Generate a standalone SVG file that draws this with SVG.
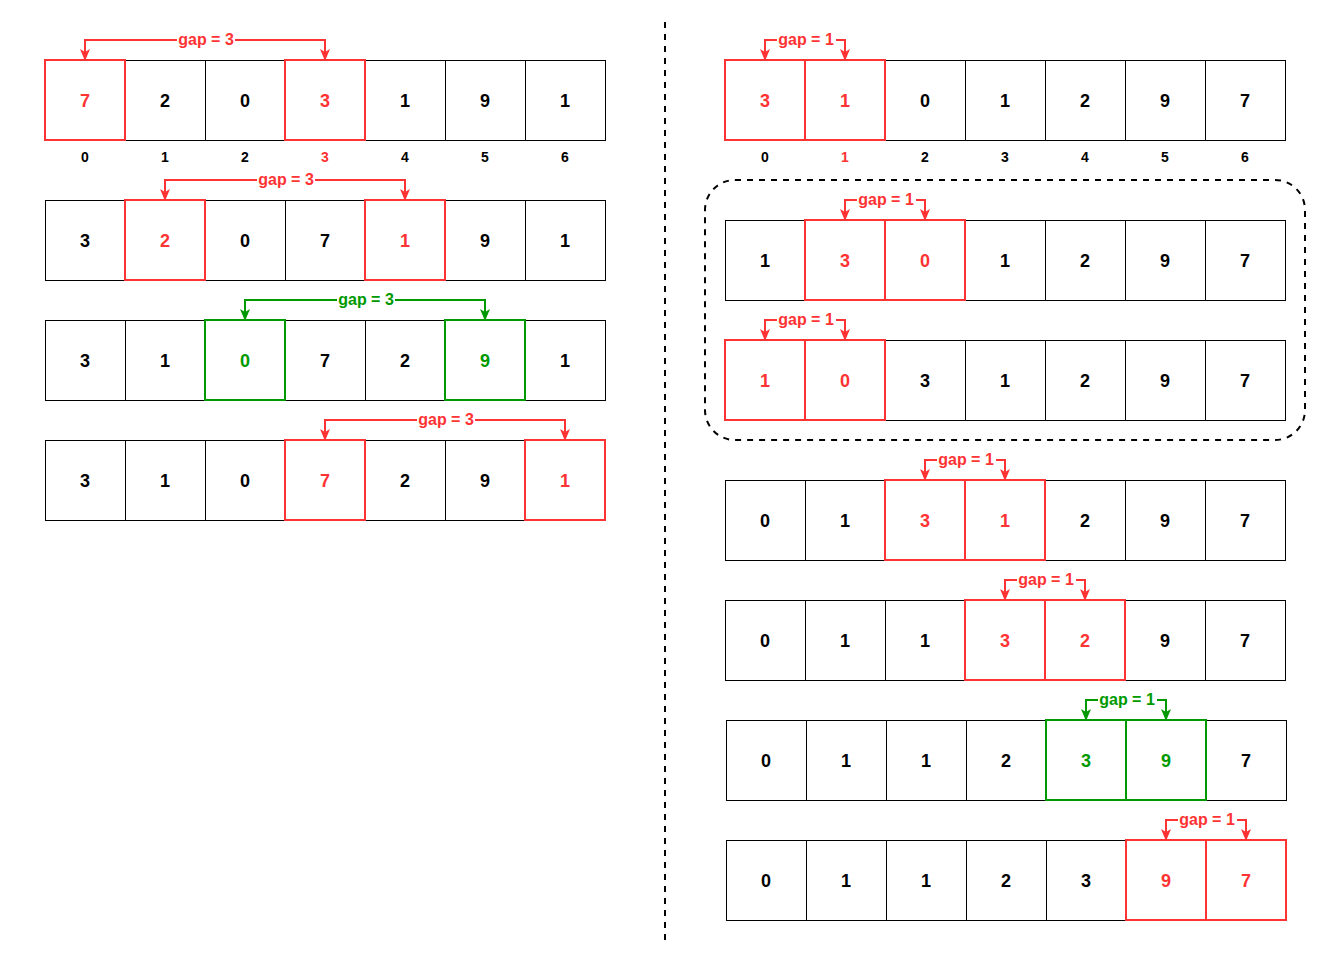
<svg xmlns="http://www.w3.org/2000/svg" width="1331" height="960" viewBox="0 0 1331 960">
<style>
.cell{fill:#fff;stroke:#000;stroke-width:1}
.hr{fill:none;stroke:#FF3333;stroke-width:2}
.hg{fill:none;stroke:#009900;stroke-width:2}
.num{font-family:"Liberation Sans",Arial,sans-serif;font-weight:bold;font-size:18px;text-anchor:middle;dominant-baseline:central;fill:#000}
.idx{font-family:"Liberation Sans",Arial,sans-serif;font-weight:bold;font-size:14px;text-anchor:middle;dominant-baseline:central;fill:#000}
.lbl{font-family:"Liberation Sans",Arial,sans-serif;font-weight:bold;font-size:16px;text-anchor:middle;dominant-baseline:central}
.r{fill:#FF3333}
.g{fill:#009900}
.cr{fill:none;stroke:#FF3333;stroke-width:2}
.cg{fill:none;stroke:#009900;stroke-width:2}
.cr.a{marker-end:url(#ar)}
.cg.a{marker-end:url(#ag)}
.bg{fill:#fff}
.dash{fill:none;stroke:#000;stroke-width:2;stroke-dasharray:6 6}
</style>
<defs>
<marker id="ar" viewBox="0 0 12 12" refX="11" refY="6" markerWidth="12" markerHeight="12" markerUnits="userSpaceOnUse" orient="auto"><path d="M0,1 L12,6 L0,11 L3,6 Z" fill="#FF3333"/></marker>
<marker id="ag" viewBox="0 0 12 12" refX="11" refY="6" markerWidth="12" markerHeight="12" markerUnits="userSpaceOnUse" orient="auto"><path d="M0,1 L12,6 L0,11 L3,6 Z" fill="#009900"/></marker>
</defs>
<rect width="1331" height="960" fill="#fff"/>
<line class="dash" x1="665" y1="22" x2="665" y2="940"/>
<rect id="group-box" class="dash" x="705" y="180" width="600" height="260" rx="30"/>

<g id="L1">
<g transform="translate(0.5,0.5)"><rect class="cell" x="45" y="60" width="80" height="80"/><rect class="cell" x="125" y="60" width="80" height="80"/><rect class="cell" x="205" y="60" width="80" height="80"/><rect class="cell" x="285" y="60" width="80" height="80"/><rect class="cell" x="365" y="60" width="80" height="80"/><rect class="cell" x="445" y="60" width="80" height="80"/><rect class="cell" x="525" y="60" width="80" height="80"/></g>
<rect class="hr" x="45" y="60" width="80" height="80"/><rect class="hr" x="285" y="60" width="80" height="80"/>
<text class="num r" x="85" y="101">7</text><text class="num" x="165" y="101">2</text><text class="num" x="245" y="101">0</text><text class="num r" x="325" y="101">3</text><text class="num" x="405" y="101">1</text><text class="num" x="485" y="101">9</text><text class="num" x="565" y="101">1</text>
</g>
<g id="L-index">
<text class="idx" x="85" y="157">0</text><text class="idx" x="165" y="157">1</text><text class="idx" x="245" y="157">2</text><text class="idx r" x="325" y="157">3</text><text class="idx" x="405" y="157">4</text><text class="idx" x="485" y="157">5</text><text class="idx" x="565" y="157">6</text>
</g>
<g id="L2">
<g transform="translate(0.5,0.5)"><rect class="cell" x="45" y="200" width="80" height="80"/><rect class="cell" x="125" y="200" width="80" height="80"/><rect class="cell" x="205" y="200" width="80" height="80"/><rect class="cell" x="285" y="200" width="80" height="80"/><rect class="cell" x="365" y="200" width="80" height="80"/><rect class="cell" x="445" y="200" width="80" height="80"/><rect class="cell" x="525" y="200" width="80" height="80"/></g>
<rect class="hr" x="125" y="200" width="80" height="80"/><rect class="hr" x="365" y="200" width="80" height="80"/>
<text class="num" x="85" y="241">3</text><text class="num r" x="165" y="241">2</text><text class="num" x="245" y="241">0</text><text class="num" x="325" y="241">7</text><text class="num r" x="405" y="241">1</text><text class="num" x="485" y="241">9</text><text class="num" x="565" y="241">1</text>
</g>
<g id="L3">
<g transform="translate(0.5,0.5)"><rect class="cell" x="45" y="320" width="80" height="80"/><rect class="cell" x="125" y="320" width="80" height="80"/><rect class="cell" x="205" y="320" width="80" height="80"/><rect class="cell" x="285" y="320" width="80" height="80"/><rect class="cell" x="365" y="320" width="80" height="80"/><rect class="cell" x="445" y="320" width="80" height="80"/><rect class="cell" x="525" y="320" width="80" height="80"/></g>
<rect class="hg" x="205" y="320" width="80" height="80"/><rect class="hg" x="445" y="320" width="80" height="80"/>
<text class="num" x="85" y="361">3</text><text class="num" x="165" y="361">1</text><text class="num g" x="245" y="361">0</text><text class="num" x="325" y="361">7</text><text class="num" x="405" y="361">2</text><text class="num g" x="485" y="361">9</text><text class="num" x="565" y="361">1</text>
</g>
<g id="L4">
<g transform="translate(0.5,0.5)"><rect class="cell" x="45" y="440" width="80" height="80"/><rect class="cell" x="125" y="440" width="80" height="80"/><rect class="cell" x="205" y="440" width="80" height="80"/><rect class="cell" x="285" y="440" width="80" height="80"/><rect class="cell" x="365" y="440" width="80" height="80"/><rect class="cell" x="445" y="440" width="80" height="80"/><rect class="cell" x="525" y="440" width="80" height="80"/></g>
<rect class="hr" x="285" y="440" width="80" height="80"/><rect class="hr" x="525" y="440" width="80" height="80"/>
<text class="num" x="85" y="481">3</text><text class="num" x="165" y="481">1</text><text class="num" x="245" y="481">0</text><text class="num r" x="325" y="481">7</text><text class="num" x="405" y="481">2</text><text class="num" x="485" y="481">9</text><text class="num r" x="565" y="481">1</text>
</g>

<g id="R1">
<g transform="translate(0.5,0.5)"><rect class="cell" x="725" y="60" width="80" height="80"/><rect class="cell" x="805" y="60" width="80" height="80"/><rect class="cell" x="885" y="60" width="80" height="80"/><rect class="cell" x="965" y="60" width="80" height="80"/><rect class="cell" x="1045" y="60" width="80" height="80"/><rect class="cell" x="1125" y="60" width="80" height="80"/><rect class="cell" x="1205" y="60" width="80" height="80"/></g>
<rect class="hr" x="725" y="60" width="80" height="80"/><rect class="hr" x="805" y="60" width="80" height="80"/>
<text class="num r" x="765" y="101">3</text><text class="num r" x="845" y="101">1</text><text class="num" x="925" y="101">0</text><text class="num" x="1005" y="101">1</text><text class="num" x="1085" y="101">2</text><text class="num" x="1165" y="101">9</text><text class="num" x="1245" y="101">7</text>
</g>
<g id="R-index">
<text class="idx" x="765" y="157">0</text><text class="idx r" x="845" y="157">1</text><text class="idx" x="925" y="157">2</text><text class="idx" x="1005" y="157">3</text><text class="idx" x="1085" y="157">4</text><text class="idx" x="1165" y="157">5</text><text class="idx" x="1245" y="157">6</text>
</g>
<g id="R2">
<g transform="translate(0.5,0.5)"><rect class="cell" x="725" y="220" width="80" height="80"/><rect class="cell" x="805" y="220" width="80" height="80"/><rect class="cell" x="885" y="220" width="80" height="80"/><rect class="cell" x="965" y="220" width="80" height="80"/><rect class="cell" x="1045" y="220" width="80" height="80"/><rect class="cell" x="1125" y="220" width="80" height="80"/><rect class="cell" x="1205" y="220" width="80" height="80"/></g>
<rect class="hr" x="805" y="220" width="80" height="80"/><rect class="hr" x="885" y="220" width="80" height="80"/>
<text class="num" x="765" y="261">1</text><text class="num r" x="845" y="261">3</text><text class="num r" x="925" y="261">0</text><text class="num" x="1005" y="261">1</text><text class="num" x="1085" y="261">2</text><text class="num" x="1165" y="261">9</text><text class="num" x="1245" y="261">7</text>
</g>
<g id="R3">
<g transform="translate(0.5,0.5)"><rect class="cell" x="725" y="340" width="80" height="80"/><rect class="cell" x="805" y="340" width="80" height="80"/><rect class="cell" x="885" y="340" width="80" height="80"/><rect class="cell" x="965" y="340" width="80" height="80"/><rect class="cell" x="1045" y="340" width="80" height="80"/><rect class="cell" x="1125" y="340" width="80" height="80"/><rect class="cell" x="1205" y="340" width="80" height="80"/></g>
<rect class="hr" x="725" y="340" width="80" height="80"/><rect class="hr" x="805" y="340" width="80" height="80"/>
<text class="num r" x="765" y="381">1</text><text class="num r" x="845" y="381">0</text><text class="num" x="925" y="381">3</text><text class="num" x="1005" y="381">1</text><text class="num" x="1085" y="381">2</text><text class="num" x="1165" y="381">9</text><text class="num" x="1245" y="381">7</text>
</g>
<g id="R4">
<g transform="translate(0.5,0.5)"><rect class="cell" x="725" y="480" width="80" height="80"/><rect class="cell" x="805" y="480" width="80" height="80"/><rect class="cell" x="885" y="480" width="80" height="80"/><rect class="cell" x="965" y="480" width="80" height="80"/><rect class="cell" x="1045" y="480" width="80" height="80"/><rect class="cell" x="1125" y="480" width="80" height="80"/><rect class="cell" x="1205" y="480" width="80" height="80"/></g>
<rect class="hr" x="885" y="480" width="80" height="80"/><rect class="hr" x="965" y="480" width="80" height="80"/>
<text class="num" x="765" y="521">0</text><text class="num" x="845" y="521">1</text><text class="num r" x="925" y="521">3</text><text class="num r" x="1005" y="521">1</text><text class="num" x="1085" y="521">2</text><text class="num" x="1165" y="521">9</text><text class="num" x="1245" y="521">7</text>
</g>
<g id="R5">
<g transform="translate(0.5,0.5)"><rect class="cell" x="725" y="600" width="80" height="80"/><rect class="cell" x="805" y="600" width="80" height="80"/><rect class="cell" x="885" y="600" width="80" height="80"/><rect class="cell" x="965" y="600" width="80" height="80"/><rect class="cell" x="1045" y="600" width="80" height="80"/><rect class="cell" x="1125" y="600" width="80" height="80"/><rect class="cell" x="1205" y="600" width="80" height="80"/></g>
<rect class="hr" x="965" y="600" width="80" height="80"/><rect class="hr" x="1045" y="600" width="80" height="80"/>
<text class="num" x="765" y="641">0</text><text class="num" x="845" y="641">1</text><text class="num" x="925" y="641">1</text><text class="num r" x="1005" y="641">3</text><text class="num r" x="1085" y="641">2</text><text class="num" x="1165" y="641">9</text><text class="num" x="1245" y="641">7</text>
</g>
<g id="R6">
<g transform="translate(0.5,0.5)"><rect class="cell" x="726" y="720" width="80" height="80"/><rect class="cell" x="806" y="720" width="80" height="80"/><rect class="cell" x="886" y="720" width="80" height="80"/><rect class="cell" x="966" y="720" width="80" height="80"/><rect class="cell" x="1046" y="720" width="80" height="80"/><rect class="cell" x="1126" y="720" width="80" height="80"/><rect class="cell" x="1206" y="720" width="80" height="80"/></g>
<rect class="hg" x="1046" y="720" width="80" height="80"/><rect class="hg" x="1126" y="720" width="80" height="80"/>
<text class="num" x="766" y="761">0</text><text class="num" x="846" y="761">1</text><text class="num" x="926" y="761">1</text><text class="num" x="1006" y="761">2</text><text class="num g" x="1086" y="761">3</text><text class="num g" x="1166" y="761">9</text><text class="num" x="1246" y="761">7</text>
</g>
<g id="R7">
<g transform="translate(0.5,0.5)"><rect class="cell" x="726" y="840" width="80" height="80"/><rect class="cell" x="806" y="840" width="80" height="80"/><rect class="cell" x="886" y="840" width="80" height="80"/><rect class="cell" x="966" y="840" width="80" height="80"/><rect class="cell" x="1046" y="840" width="80" height="80"/><rect class="cell" x="1126" y="840" width="80" height="80"/><rect class="cell" x="1206" y="840" width="80" height="80"/></g>
<rect class="hr" x="1126" y="840" width="80" height="80"/><rect class="hr" x="1206" y="840" width="80" height="80"/>
<text class="num" x="766" y="881">0</text><text class="num" x="846" y="881">1</text><text class="num" x="926" y="881">1</text><text class="num" x="1006" y="881">2</text><text class="num" x="1086" y="881">3</text><text class="num r" x="1166" y="881">9</text><text class="num r" x="1246" y="881">7</text>
</g>

<g id="connectors">
<path class="cr a" d="M205,40 H85 V60"/><path class="cr a" d="M205,40 H325 V60"/>
<rect class="bg" x="177" y="32" width="58" height="16"/><text class="lbl r" x="206" y="39">gap = 3</text>
<path class="cr a" d="M285,180 H165 V200"/><path class="cr a" d="M285,180 H405 V200"/>
<rect class="bg" x="257" y="172" width="58" height="16"/><text class="lbl r" x="286" y="179">gap = 3</text>
<path class="cg a" d="M365,300 H245 V320"/><path class="cg a" d="M365,300 H485 V320"/>
<rect class="bg" x="337" y="292" width="58" height="16"/><text class="lbl g" x="366" y="299">gap = 3</text>
<path class="cr a" d="M445,420 H325 V440"/><path class="cr a" d="M445,420 H565 V440"/>
<rect class="bg" x="417" y="412" width="58" height="16"/><text class="lbl r" x="446" y="419">gap = 3</text>

<path class="cr a" d="M805,40 H765 V60"/><path class="cr a" d="M805,40 H845 V60"/>
<rect class="bg" x="777" y="32" width="59" height="16"/><text class="lbl r" x="806" y="39">gap = 1</text>
<path class="cr a" d="M885,200 H845 V220"/><path class="cr a" d="M885,200 H925 V220"/>
<rect class="bg" x="857" y="192" width="59" height="16"/><text class="lbl r" x="886" y="199">gap = 1</text>
<path class="cr a" d="M805,320 H765 V340"/><path class="cr a" d="M805,320 H845 V340"/>
<rect class="bg" x="777" y="312" width="59" height="16"/><text class="lbl r" x="806" y="319">gap = 1</text>
<path class="cr a" d="M965,460 H925 V480"/><path class="cr a" d="M965,460 H1005 V480"/>
<rect class="bg" x="937" y="452" width="59" height="16"/><text class="lbl r" x="966" y="459">gap = 1</text>
<path class="cr a" d="M1045,580 H1005 V600"/><path class="cr a" d="M1045,580 H1085 V600"/>
<rect class="bg" x="1017" y="572" width="59" height="16"/><text class="lbl r" x="1046" y="579">gap = 1</text>
<path class="cg a" d="M1126,700 H1086 V720"/><path class="cg a" d="M1126,700 H1166 V720"/>
<rect class="bg" x="1098" y="692" width="59" height="16"/><text class="lbl g" x="1127" y="699">gap = 1</text>
<path class="cr a" d="M1206,820 H1166 V840"/><path class="cr a" d="M1206,820 H1246 V840"/>
<rect class="bg" x="1178" y="812" width="59" height="16"/><text class="lbl r" x="1207" y="819">gap = 1</text>
</g>
</svg>
